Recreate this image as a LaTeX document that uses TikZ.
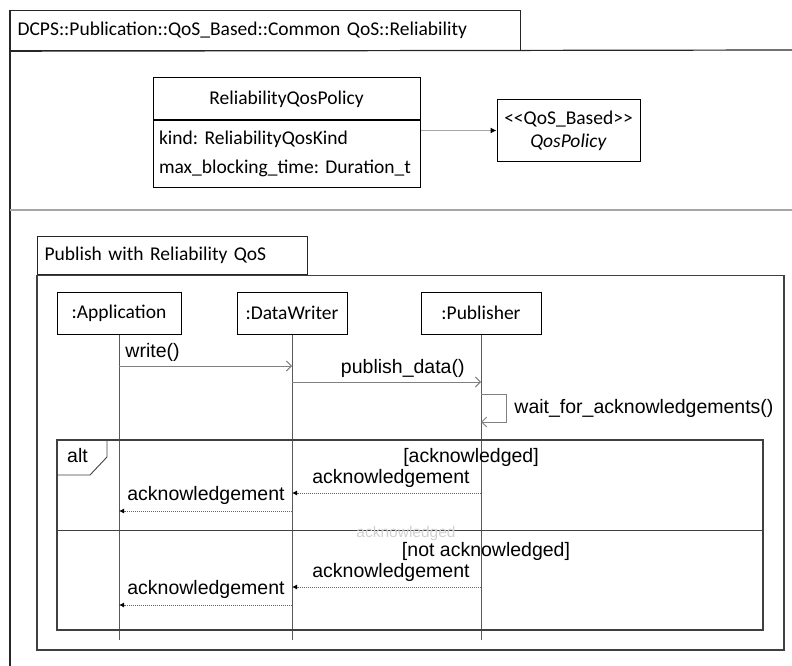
\documentclass[tikz,border=0pt]{standalone}
\usepackage{fontspec}
\setmainfont{Carlito}
\newfontfamily\msgfont{Liberation Sans}
\usetikzlibrary{positioning,arrows.meta}
\frenchspacing

\begin{document}
\begin{tikzpicture}[x=1pt, y=-1pt, font=\fontsize{19.5}{23}\selectfont,
    block_class/.style ={rectangle, draw=black, line width=1pt,
      minimum width=267pt, inner sep=6pt},
    block_life/.style ={rectangle, draw=black, line width=1pt,
      minimum height=42pt, inner sep=4pt},
    block_tab/.style ={rectangle, draw=black!85, line width=1.2pt,
      anchor=north west, align=left, inner sep=7pt},
    frame/.style ={draw=black!75, line width=1.4pt},
    lifeline/.style ={draw=black!65, line width=0.9pt},
    msg/.style ={draw=black!50, line width=0.9pt,
      -{Straight Barb[length=5pt,width=10pt]}},
    reply/.style ={draw=black!60, line width=0.9pt, dash pattern=on 1pt off 1pt,
      -{Latex[length=5pt,width=5pt,color=black]}},
    lbl/.style ={font=\msgfont\fontsize{19.5}{23}\selectfont, inner sep=0pt}]

    \useasboundingbox (0,0) rectangle (792,666);

    % package frame
    \node [block_tab, minimum width=510pt, minimum height=40pt, text width=496pt]
      (pkgTab) at (10,10) {DCPS::Publication::QoS\_Based::Common QoS::Reliability};
    \coordinate (pkgBottom) at (10,666);
    \coordinate (pkgRight) at (792,50);
    \coordinate (sepLeft) at (10,210);
    \coordinate (sepRight) at (792,210);
    \draw [line width=1.2pt, black!85] (pkgTab.north west) -- (pkgBottom);
    \draw [line width=1.2pt, black!85] (pkgTab.south west) -- (pkgRight);
    \draw [line width=1.5pt, black!35] (sepLeft) -- (sepRight);

    % class part
    \node [block_class, minimum height=42pt] (relPolicy) at (286.5,99) {ReliabilityQosPolicy};
    \node [block_class, below=0pt of relPolicy, minimum height=66pt, text width=255pt,
      align=left, font=\fontsize{19.5}{29}\selectfont] (relAttr)
      {kind: ReliabilityQosKind\\max\_blocking\_time: Duration\_t};
    \node [block_class, minimum width=143pt, minimum height=61pt, align=center]
      (qosPolicy) at (568.5,130.5) {<{}<QoS\_Based>{}>\\\textit{QosPolicy}};
    \draw [line width=1pt, black!35, -{Latex[length=6pt,width=6pt,color=black]}]
      (relAttr.east |- qosPolicy) -- (qosPolicy);

    % interaction frame
    \node [block_tab, minimum width=270pt, minimum height=38pt, text width=256pt]
      (seqTab) at (37,236) {Publish with Reliability QoS};
    \coordinate (seqCorner) at (784,650);
    \draw [frame] (seqTab.south west) rectangle (seqCorner);

    % lifelines
    \node [block_life, minimum width=124pt] (app) at (119,313) {:Application};
    \node [block_life, minimum width=110pt] (dw) at (292,313) {:DataWriter};
    \node [block_life, minimum width=120pt] (pub) at (481,313) {:Publisher};
    \coordinate (yEnd) at (0,640);
    \foreach \n in {app,dw,pub}
      \draw [lifeline] (\n.south) -- (\n |- yEnd);

    % alt fragment
    \coordinate (altNW) at (57,440);
    \coordinate (altSE) at (763,630);
    \coordinate (yElse) at (0,530);
    \draw [frame, line width=1.2pt] (altNW) rectangle (altSE);
    \draw [line width=0.9pt, black!75] (altNW) ++(0,35) -- ++(33,0) -- ++(17,-18) -- ++(0,-17);
    \draw [line width=0.9pt, black!75] (altNW |- yElse) -- (altSE |- yElse);
    \node [lbl, anchor=west] (altTag) at (67,456) {alt};
    \node [lbl] (guardAck) at (471,457) {[acknowledged]};
    \node [lbl, font=\msgfont\fontsize{15.5}{17}\selectfont, text=black!18] (ghost) at (406,533) {acknowledged};
    \node [lbl] (guardNotAck) at (486,551) {[not acknowledged]};

    % messages
    \coordinate (yWrite) at (0,366);
    \coordinate (yPublish) at (0,382);
    \coordinate (ySelf) at (0,394);
    \coordinate (ySelfEnd) at (0,422);
    \coordinate (yAckA) at (0,493);
    \coordinate (yAckB) at (0,511);
    \coordinate (yAckC) at (0,587);
    \coordinate (yAckD) at (0,605);

    \draw [msg] (app |- yWrite) -- node [lbl, pos=0, anchor=south west, xshift=6pt, yshift=4pt] {write()} (dw |- yWrite);
    \draw [msg] (dw |- yPublish) -- node [lbl, pos=1, anchor=south east, xshift=-16pt, yshift=4pt] {publish\_data()} (pub |- yPublish);
    \draw [msg] (pub |- ySelf) -- ++(25,0) |- node [lbl, pos=0.25, anchor=west, xshift=8pt] {wait\_for\_acknowledgements()} (pub |- ySelfEnd);

    \draw [reply] (pub |- yAckA) -- node [lbl, pos=0, anchor=south east, xshift=-11pt, yshift=5pt] {acknowledgement} (dw |- yAckA);
    \draw [reply] (dw |- yAckB) -- node [lbl, pos=0, anchor=south east, xshift=-7pt, yshift=6pt] {acknowledgement} (app |- yAckB);
    \draw [reply] (pub |- yAckC) -- node [lbl, pos=0, anchor=south east, xshift=-11pt, yshift=5pt] {acknowledgement} (dw |- yAckC);
    \draw [reply] (dw |- yAckD) -- node [lbl, pos=0, anchor=south east, xshift=-7pt, yshift=6pt] {acknowledgement} (app |- yAckD);

\end{tikzpicture}
\end{document}
